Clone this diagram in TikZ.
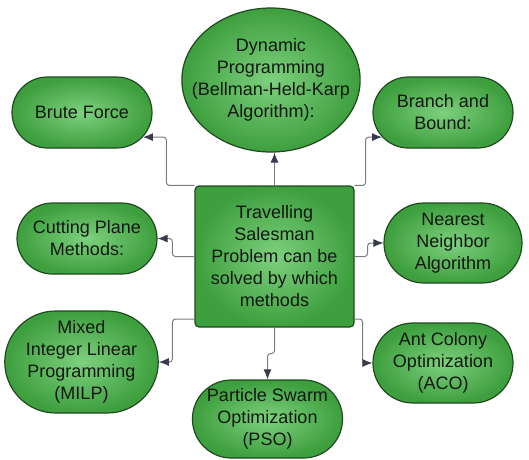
\documentclass[tikz,border=0pt]{standalone}
\usepackage{fontspec}
\setmainfont{Liberation Sans}
\usepackage{tikz}
\usetikzlibrary{arrows.meta,positioning,shapes.geometric,shapes.misc}
\definecolor{leaf}{HTML}{3E9F3E}
\definecolor{leaflight}{HTML}{7ED07E}
\definecolor{leafedge}{HTML}{1F4A1F}
\definecolor{wire}{HTML}{7C7C7C}
\definecolor{tip}{HTML}{3A3A4C}
\definecolor{ink}{HTML}{111811}

\begin{document}
\begin{tikzpicture}[x=1pt,y=-1pt,every node/.style={font=\fontsize{18}{22}\selectfont,text=ink,align=center,inner sep=0pt},pill/.style={rounded rectangle,draw=leafedge,line width=1.2pt,inner color=leaflight,outer color=leaf},oval/.style={ellipse,draw=leafedge,line width=1.2pt,inner color=leaflight,outer color=leaf,inner xsep=-16pt},hub/.style={rectangle,rounded corners=4pt,draw=leafedge,line width=1.2pt,inner color=leaflight,outer color=leaf,minimum width=159pt,minimum height=141pt},arr/.style={-{Latex[length=10pt,width=8pt,color=tip]},draw=wire,line width=1pt,rounded corners=3pt}]
\useasboundingbox (0,0) rectangle (529,459);
\node[hub] (tsp) at (274.5,256.5) {Travelling\\Salesman\\Problem can be\\solved by which\\methods};
\node[pill,minimum width=140pt,minimum height=71pt] (brute) at (82,112.5) {Brute Force};
\node[oval,minimum width=176pt,minimum height=144pt] (dp) at (271,80) {Dynamic\\Programming\\(Bellman-Held-Karp\\Algorithm):};
\node[pill,minimum width=140pt,minimum height=71pt] (bnb) at (443,112.5) {Branch and\\Bound:};
\node[pill,minimum width=140pt,minimum height=71pt] (cut) at (87,238.5) {Cutting Plane\\Methods:};
\node[pill,minimum width=138pt,minimum height=80pt] (nn) at (453,243) {Nearest\\Neighbor\\Algorithm};
\node[pill,minimum width=141pt,minimum height=102pt] (milp) at (81.5,362) {Mixed\\Integer Linear\\Programming\\(MILP)};
\node[pill,minimum width=149pt,minimum height=78pt] (pso) at (267.5,419) {Particle Swarm\\Optimization\\(PSO)};
\node[pill,minimum width=140pt,minimum height=80pt] (aco) at (443,363) {Ant Colony\\Optimization\\(ACO)};
\draw[arr] (tsp.north west) -- ++(-28,0) |- (brute.-22);\draw[arr] (tsp.north) -- (tsp.north |- dp.south);\draw[arr] (tsp.north east) -- ++(11,0) |- (bnb.202);
\draw[arr] (tsp.west) -- ++(-22,0) |- (cut.east);\draw[arr] (tsp.east) -- ++(13,0) |- (nn.west);
\draw[arr] (tsp.218) -- ++(-22,0) |- (milp.east);\draw[arr] (tsp.south) -- ++(0,26) -| (pso.north);\draw[arr] (tsp.-38) -- ++(8,0) |- (aco.west);
\end{tikzpicture}
\end{document}
